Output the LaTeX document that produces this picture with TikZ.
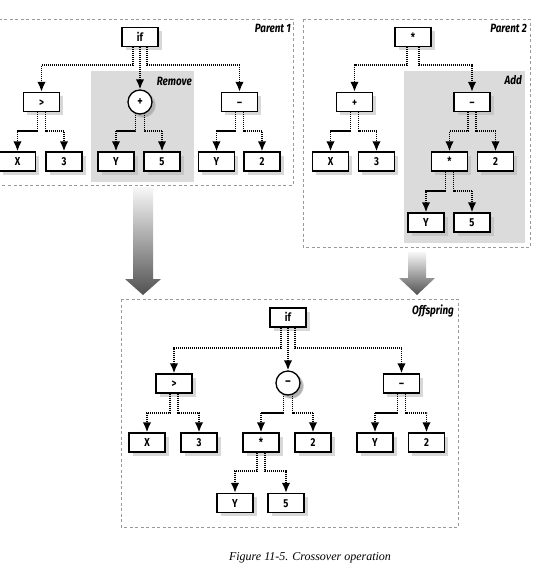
\documentclass[tikz,border=0pt]{standalone}
\usepackage{fontspec}
\setmainfont{Liberation Serif}
\newfontfamily\treefont[FakeStretch=0.82]{Fira Sans}
\usetikzlibrary{positioning,shadows,arrows.meta}

\tikzset{
    treebox/.style={draw, line width=1.3pt, fill=white, minimum width=36pt, minimum height=19pt,
        inner sep=0pt, text height=8pt, text depth=0pt,
        font=\treefont\bfseries\fontsize{11.5}{12}\selectfont,
        drop shadow={shadow xshift=3.5pt, shadow yshift=-3.5pt, fill=black!30}},
    opcircle/.style={draw, circle, line width=1.3pt, fill=white, minimum size=24pt, inner sep=0pt,
        font=\treefont\bfseries\fontsize{12.5}{13}\selectfont,
        circular drop shadow={shadow xshift=2.5pt, shadow yshift=-2.5pt, fill=black!30}},
    conn/.style={line width=1.8pt, dash pattern=on 1.1pt off 0.9pt, -{Latex[length=10pt, width=8.5pt]}},
    framebox/.style={draw=black!40, dash pattern=on 3pt off 2.5pt, line width=0.8pt},
    region/.style={fill=black!14},
    framelabel/.style={anchor=east, inner sep=0pt, font=\treefont\bfseries\itshape\fontsize{12}{12}\selectfont},
    bigarrow/.style={top color=black!3, bottom color=black!68}
}

\begin{document}
\begin{tikzpicture}[x=1pt, y=-1pt]
    \useasboundingbox (0,0) rectangle (542,573);

    % Frames and shaded regions
    \draw[framebox] (-2,19) rectangle (293,185);
    \draw[framebox] (303,19) rectangle (530,247);
    \draw[framebox] (121,299) rectangle (458,527);
    \fill[region] (91,71) rectangle (194,182);
    \fill[region] (404,71) rectangle (525,243);

    \node[framelabel] (lab_p1) at (291,28) {Parent 1};
    \node[framelabel] (lab_remove) at (192,81) {Remove};
    \node[framelabel] (lab_p2) at (527,28) {Parent 2};
    \node[framelabel] (lab_add) at (522,80) {Add};
    \node[framelabel] (lab_off) at (454,311) {Offspring};

    % Big arrows
    \shade[bigarrow] (133,187) -- (153,187) -- (153,279) -- (161,279) -- (143,295)
        -- (125,279) -- (133,279) -- cycle;
    \shade[bigarrow] (408,252) -- (426,252) -- (426,278) -- (435,278) -- (417,295)
        -- (399,278) -- (408,278) -- cycle;

    % Parent 1
    \node[treebox] (if_p1) at (140,37) {if};
    \node[treebox] (gt_p1) at (41.5,102) {>};
    \node[opcircle] (plus_p1) at (140,102) {+};
    \node[treebox] (minus_p1) at (239.5,102) {–};
    \node[treebox] (x_p1) at (17.5,161.5) {X};
    \node[treebox, right of=x_p1, node distance=46.5pt] (three_p1) {3};
    \node[treebox] (y_p1) at (116,161.5) {Y};
    \node[treebox, right of=y_p1, node distance=46pt] (five_p1) {5};
    \node[treebox] (yy_p1) at (216.5,161.5) {Y};
    \node[treebox, right of=yy_p1, node distance=45.5pt] (two_p1) {2};

    \draw[conn] ([xshift=-7pt]if_p1.south) -- ++(0,18) -| (gt_p1.north);
    \draw[conn] (if_p1.south) -- (plus_p1.north);
    \draw[conn] ([xshift=7pt]if_p1.south) -- ++(0,18) -| (minus_p1.north);
    \draw[conn] ([xshift=-4pt]gt_p1.south) -- ++(0,19) -| (x_p1.north);
    \draw[conn] ([xshift=4pt]gt_p1.south) -- ++(0,19) -| (three_p1.north);
    \draw[conn] ([xshift=-4.5pt]plus_p1.south) -- ++(0,16) -| (y_p1.north);
    \draw[conn] ([xshift=4.5pt]plus_p1.south) -- ++(0,16) -| (five_p1.north);
    \draw[conn] ([xshift=-4pt]minus_p1.south) -- ++(0,19) -| (yy_p1.north);
    \draw[conn] ([xshift=4pt]minus_p1.south) -- ++(0,19) -| (two_p1.north);

    % Parent 2
    \node[treebox] (times_p2) at (413,37) {*};
    \node[treebox] (plus_p2) at (354.5,102) {+};
    \node[treebox] (minus_p2) at (472,102) {–};
    \node[treebox] (x_p2) at (330.5,161.5) {X};
    \node[treebox, right of=x_p2, node distance=46pt] (three_p2) {3};
    \node[treebox] (tt_p2) at (449.5,161.5) {*};
    \node[treebox, right of=tt_p2, node distance=46pt] (two_p2) {2};
    \node[treebox] (y_p2) at (426,222.5) {Y};
    \node[treebox, right of=y_p2, node distance=46pt] (five_p2) {5};

    \draw[conn] ([xshift=-6pt]times_p2.south) -- ++(0,18) -| (plus_p2.north);
    \draw[conn] ([xshift=6pt]times_p2.south) -- ++(0,18) -| (minus_p2.north);
    \draw[conn] ([xshift=-4pt]plus_p2.south) -- ++(0,19) -| (x_p2.north);
    \draw[conn] ([xshift=4pt]plus_p2.south) -- ++(0,19) -| (three_p2.north);
    \draw[conn] ([xshift=-4pt]minus_p2.south) -- ++(0,19) -| (tt_p2.north);
    \draw[conn] ([xshift=4pt]minus_p2.south) -- ++(0,19) -| (two_p2.north);
    \draw[conn] ([xshift=-4pt]tt_p2.south) -- ++(0,19) -| (y_p2.north);
    \draw[conn] ([xshift=4pt]tt_p2.south) -- ++(0,19) -| (five_p2.north);

    % Offspring
    \node[treebox] (if_off) at (288,317.5) {if};
    \node[treebox] (gt_off) at (174,383.5) {>};
    \node[opcircle] (minus_off) at (288,383) {–};
    \node[treebox] (mm_off) at (401.5,383.5) {–};
    \node[treebox] (x_off) at (147,442.5) {X};
    \node[treebox, right of=x_off, node distance=52pt] (three_off) {3};
    \node[treebox] (tt_off) at (261,442.5) {*};
    \node[treebox, right of=tt_off, node distance=52pt] (two_off) {2};
    \node[treebox] (y_off) at (375,442.5) {Y};
    \node[treebox, right of=y_off, node distance=51.5pt] (twob_off) {2};
    \node[treebox] (yy_off) at (235,503) {Y};
    \node[treebox, right of=yy_off, node distance=51pt] (five_off) {5};

    \draw[conn] ([xshift=-7pt]if_off.south) -- ++(0,20) -| (gt_off.north);
    \draw[conn] (if_off.south) -- (minus_off.north);
    \draw[conn] ([xshift=7pt]if_off.south) -- ++(0,20) -| (mm_off.north);
    \draw[conn] ([xshift=-4pt]gt_off.south) -- ++(0,19) -| (x_off.north);
    \draw[conn] ([xshift=4pt]gt_off.south) -- ++(0,19) -| (three_off.north);
    \draw[conn] ([xshift=-4.5pt]minus_off.south) -- ++(0,17) -| (tt_off.north);
    \draw[conn] ([xshift=4.5pt]minus_off.south) -- ++(0,17) -| (two_off.north);
    \draw[conn] ([xshift=-4pt]mm_off.south) -- ++(0,19) -| (y_off.north);
    \draw[conn] ([xshift=4pt]mm_off.south) -- ++(0,19) -| (twob_off.north);
    \draw[conn] ([xshift=-4pt]tt_off.south) -- ++(0,18) -| (yy_off.north);
    \draw[conn] ([xshift=4pt]tt_off.south) -- ++(0,18) -| (five_off.north);

    % Caption
    \node (caption) at (310,558) {\itshape\fontsize{12}{12}\selectfont Figure 11-5. Crossover operation};
\end{tikzpicture}
\end{document}
